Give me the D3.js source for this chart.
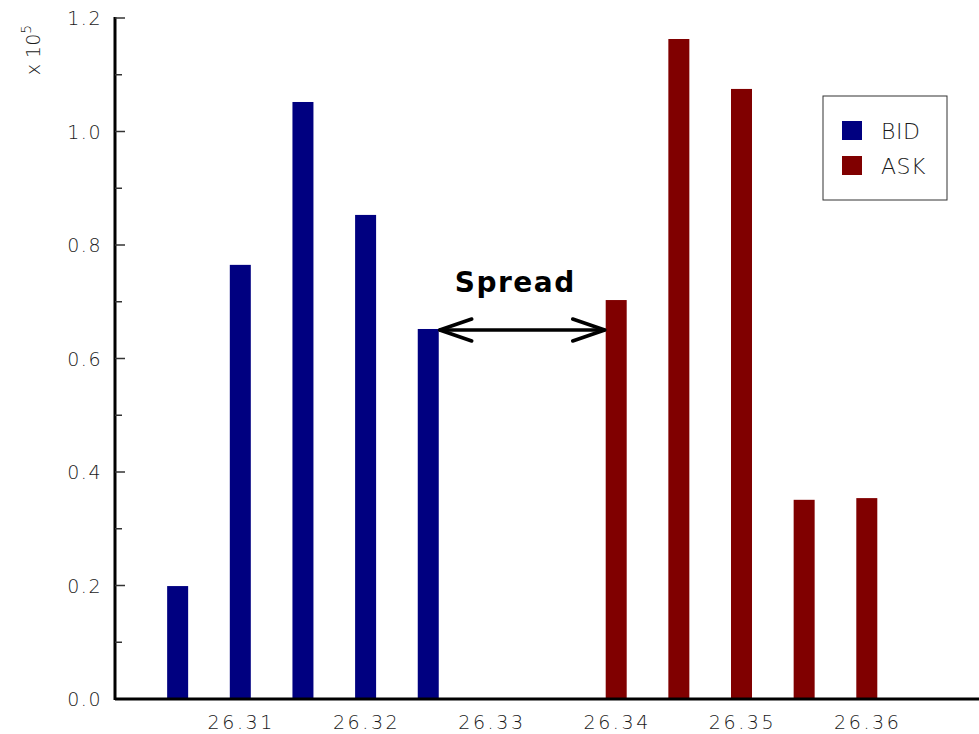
<!DOCTYPE html>
<html><head><meta charset="utf-8">
<script src="https://cdn.jsdelivr.net/npm/d3@7"></script>
<style>
body{margin:0;background:#fff;}
svg{display:block;}
</style></head>
<body>
<svg id="c" width="979" height="734"></svg>
<script>
const bidPrices = [26.305, 26.31, 26.315, 26.32, 26.325];
const bidValues = [0.199, 0.765, 1.052, 0.853, 0.652];
const askPrices = [26.34, 26.345, 26.35, 26.355, 26.36];
const askValues = [0.703, 1.163, 1.075, 0.351, 0.354];
const xTicks = [26.31, 26.32, 26.33, 26.34, 26.35, 26.36];
const yTicks = [0, 0.2, 0.4, 0.6, 0.8, 1.0, 1.2];
const yMinorTicks = [0.1, 0.3, 0.5, 0.7, 0.9, 1.1];
const seriesNames = ["BID", "ASK"];
const seriesColors = ["#000080", "#800000"];

const svg = d3.select("#c");
const mLeft = 115, mTop = 18, mBottom = 699;
const x = d3.scaleLinear().domain([26.30, 26.37]).range([mLeft, mLeft + 7 * 125.3]);
const y = d3.scaleLinear().domain([0, 1.2]).range([mBottom, mTop]);
const barW = 21;

// bars
const bid = bidPrices.map((p, i) => ({p, v: bidValues[i]}));
const ask = askPrices.map((p, i) => ({p, v: askValues[i]}));
[bid, ask].forEach((data, s) => {
  svg.append("g").selectAll("rect").data(data).join("rect")
    .attr("x", d => x(d.p) - barW / 2)
    .attr("width", barW)
    .attr("y", d => y(d.v))
    .attr("height", d => y(0) - y(d.v))
    .attr("fill", seriesColors[s]);
});

// y axis
const yAxis = svg.append("g").attr("transform", `translate(${mLeft},0)`);
yAxis.append("line").attr("x1", 0).attr("x2", 0).attr("y1", y(1.2) - 1).attr("y2", y(0) + 1)
  .attr("stroke", "#000").attr("stroke-width", 3);
yAxis.selectAll("line.maj").data(yTicks).join("line").attr("class", "maj")
  .attr("x1", 0).attr("x2", 10).attr("y1", d => y(d)).attr("y2", d => y(d))
  .attr("stroke", "#333").attr("stroke-width", 1.5);
yAxis.selectAll("line.min").data(yMinorTicks).join("line").attr("class", "min")
  .attr("x1", 0).attr("x2", 7).attr("y1", d => y(d)).attr("y2", d => y(d))
  .attr("stroke", "#333").attr("stroke-width", 1.5);
yAxis.selectAll("text").data(yTicks).join("text")
  .attr("x", -13).attr("y", d => y(d) + 7)
  .attr("text-anchor", "end")
  .attr("font-family", "DejaVu Sans, sans-serif").attr("font-weight", 200)
  .attr("font-size", 19).attr("letter-spacing", 1.5).attr("fill", "#1a1a1a")
  .text(d => d3.format(".1f")(d));

// x axis
const xAxis = svg.append("g").attr("transform", `translate(0,${mBottom})`);
xAxis.append("line").attr("x1", mLeft).attr("x2", 979).attr("y1", 0).attr("y2", 0)
  .attr("stroke", "#000").attr("stroke-width", 3);
xAxis.selectAll("text").data(xTicks).join("text")
  .attr("x", d => x(d) + 1).attr("y", 30)
  .attr("text-anchor", "middle")
  .attr("font-family", "DejaVu Sans, sans-serif").attr("font-weight", 200)
  .attr("font-size", 19).attr("letter-spacing", 2.6).attr("fill", "#1a1a1a")
  .text(d => d3.format(".2f")(d));

// exponent label
const ex = svg.append("text").attr("transform", "translate(40,50) rotate(-90)")
  .attr("text-anchor", "middle")
  .attr("font-family", "DejaVu Sans, sans-serif").attr("font-weight", 200)
  .attr("font-size", 19).attr("fill", "#1a1a1a");
ex.append("tspan").text("x 10");
ex.append("tspan").attr("dy", -9).attr("font-size", 14).text("5");

// legend
const lg = svg.append("g").attr("transform", "translate(823,96)");
lg.append("rect").attr("width", 124).attr("height", 104).attr("fill", "#fff")
  .attr("stroke", "#333").attr("stroke-width", 1);
seriesNames.forEach((n, i) => {
  lg.append("rect").attr("x", 19).attr("y", 25 + i * 35).attr("width", 20).attr("height", 19)
    .attr("fill", seriesColors[i]);
  lg.append("text").attr("x", 58).attr("y", 43 + i * 35)
    .attr("font-family", "DejaVu Sans, sans-serif").attr("font-weight", 200)
    .attr("font-size", 22).attr("letter-spacing", 0.5).attr("fill", "#1a1a1a").text(n);
});

// spread arrow
const lastBid = bid[bid.length - 1], firstAsk = ask[0];
const ax1 = x(lastBid.p) + barW / 2 + 1, ax2 = x(firstAsk.p) - barW / 2 - 1, ay = y(lastBid.v) + 1;
const ag = svg.append("g").attr("stroke", "#000").attr("stroke-width", 3.5).attr("fill", "none")
  .attr("stroke-linecap", "round").attr("stroke-linejoin", "round");
ag.append("line").attr("x1", ax1).attr("x2", ax2).attr("y1", ay).attr("y2", ay);
ag.append("path").attr("d", `M${ax1 + 32},${ay - 11} L${ax1},${ay} L${ax1 + 32},${ay + 11}`);
ag.append("path").attr("d", `M${ax2 - 32},${ay - 11} L${ax2},${ay} L${ax2 - 32},${ay + 11}`);
svg.append("text").attr("x", (ax1 + ax2) / 2 - 7).attr("y", 292)
  .attr("text-anchor", "middle")
  .attr("font-family", "DejaVu Sans, sans-serif").attr("font-weight", "bold")
  .attr("font-size", 28).attr("letter-spacing", 1.5).attr("fill", "#000").text("Spread");
</script>
</body></html>
